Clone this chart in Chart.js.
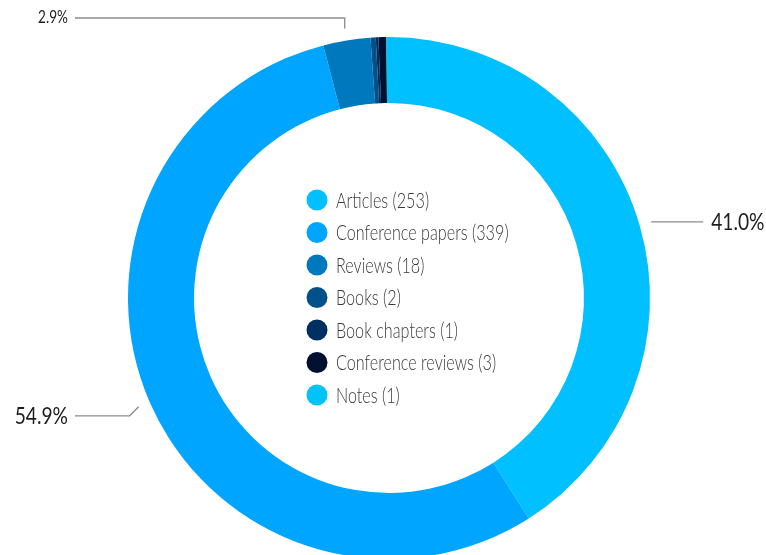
<!DOCTYPE html>
<html lang="en">
<head>
    <meta charset="UTF-8">
    <title>Document types</title>
    <script src="https://cdn.jsdelivr.net/npm/chart.js"></script>
    <style>
        body {
            margin: 0;
            padding: 0;
            background: #ffffff;
            overflow: hidden;
        }
        .chart-container {
            position: relative;
            width: 766px;
            height: 560px;
        }
    </style>
</head>
<body>
    <div class="chart-container">
        <canvas id="typesChart"></canvas>
    </div>

    <script>
        // datos
        const categories = ['Articles', 'Conference papers', 'Reviews', 'Books', 'Book chapters', 'Conference reviews', 'Notes'];
        const counts = [253, 339, 18, 2, 1, 3, 1];
        const sliceColors = ['#00c0ff', '#00a5ff', '#0078be', '#00508a', '#002f62', '#001030', '#00c3f8'];
        const shownPercents = ['41.0%', '54.9%', '2.9%'];

        const FONT = "Lato, 'Liberation Sans', sans-serif";

        // la fuente original es condensada
        function squeezedText(c, text, x, y, squeeze) {
            const w = c.measureText(text).width * squeeze;
            c.fillText(text, x, y, w);
        }

        // leyenda dibujada en el hueco central
        const centerLegend = {
            id: 'centerLegend',
            afterDraw(chart) {
                const c = chart.ctx;
                const arc = chart.getDatasetMeta(0).data[0];
                const cx = arc.x, cy = arc.y;
                const rowH = 32.5;
                const top = cy - 98;
                c.save();
                c.font = '300 21px ' + FONT;
                c.textBaseline = 'middle';
                c.textAlign = 'left';
                categories.forEach((cat, i) => {
                    const y = top + i * rowH;
                    c.fillStyle = sliceColors[i];
                    c.beginPath();
                    c.arc(cx - 72, y, 10.5, 0, Math.PI * 2);
                    c.fill();
                    c.fillStyle = '#3a3a3a';
                    squeezedText(c, cat + ' (' + counts[i] + ')', cx - 53, y + 1, 0.77);
                });
                c.restore();
            }
        };

        // porcentajes con líneas guía
        const percentLabels = {
            id: 'percentLabels',
            afterDraw(chart) {
                const c = chart.ctx;
                const arcs = chart.getDatasetMeta(0).data;
                const anchor = (a) => {
                    const ang = (a.startAngle + a.endAngle) / 2;
                    const r = a.outerRadius + 12;
                    return [a.x + r * Math.cos(ang), a.y + r * Math.sin(ang)];
                };
                c.save();
                c.strokeStyle = '#8c8c8c';
                c.lineWidth = 1.3;
                c.fillStyle = '#1e1e1e';
                c.textBaseline = 'middle';

                // 41.0% (Articles) a la derecha
                let [x0, y0] = anchor(arcs[0]);
                c.beginPath();
                c.moveTo(x0, y0);
                c.lineTo(x0 + 52, y0);
                c.stroke();
                c.font = '24px ' + FONT;
                c.textAlign = 'left';
                squeezedText(c, shownPercents[0], x0 + 60, y0, 0.8);

                // 54.9% (Conference papers) a la izquierda
                [x0, y0] = anchor(arcs[1]);
                c.beginPath();
                c.moveTo(x0, y0);
                c.lineTo(x0 - 9, y0 + 9);
                c.lineTo(75, y0 + 9);
                c.stroke();
                c.textAlign = 'right';
                squeezedText(c, shownPercents[1], 68, y0 + 9, 0.8);

                // 2.9% (Reviews) arriba
                [x0, y0] = anchor(arcs[2]);
                c.beginPath();
                c.moveTo(x0, y0);
                c.lineTo(x0, 18);
                c.lineTo(75, 18);
                c.stroke();
                c.font = '17px ' + FONT;
                squeezedText(c, shownPercents[2], 68, 18, 0.8);
                c.restore();
            }
        };

        const ctx = document.getElementById('typesChart').getContext('2d');
        const typesChart = new Chart(ctx, {
            type: 'doughnut',
            data: {
                labels: categories,
                datasets: [{
                    data: counts,
                    backgroundColor: sliceColors,
                    borderWidth: 0
                }]
            },
            options: {
                responsive: true,
                maintainAspectRatio: false,
                animation: false,
                cutout: '74.7%',
                layout: {
                    padding: { left: 128, right: 116, top: 37, bottom: 1 }
                },
                plugins: {
                    legend: { display: false },
                    tooltip: { enabled: false }
                }
            },
            plugins: [centerLegend, percentLabels]
        });
    </script>
</body>
</html>
